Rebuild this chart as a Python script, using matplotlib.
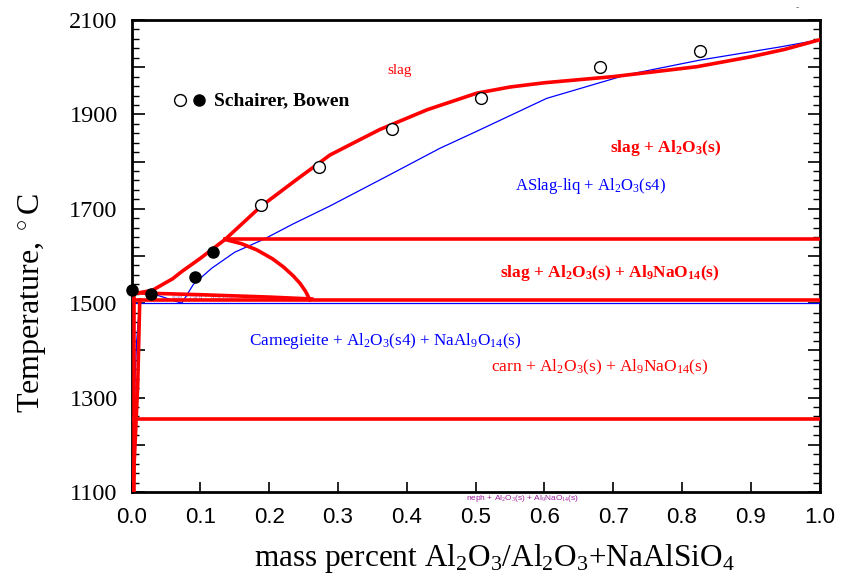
import matplotlib
matplotlib.use("Agg")
import matplotlib.pyplot as plt
from matplotlib.ticker import MultipleLocator, FuncFormatter

plt.rcParams['font.family'] = ['Liberation Serif', 'DejaVu Serif']
plt.rcParams['mathtext.fontset'] = 'custom'
plt.rcParams['mathtext.rm'] = 'Liberation Serif'
plt.rcParams['mathtext.it'] = 'Liberation Serif:italic'
plt.rcParams['mathtext.bf'] = 'Liberation Serif:bold'

RED = '#ff0000'
BLUE = '#0000ff'

# Liquidus (slag / slag + Al2O3)
liq_x = [0.010, 0.030, 0.060, 0.073, 0.100, 0.136, 0.188, 0.240, 0.2885, 0.330,
         0.361, 0.430, 0.502, 0.550, 0.600, 0.700, 0.8215, 0.900, 0.950, 1.000]
liq_T = [1522, 1527, 1552, 1567, 1595, 1635, 1705, 1762, 1814, 1845,
         1868, 1910, 1945, 1958, 1967, 1980, 2001, 2022, 2038, 2058]

# Boundary from the peritectic down to the eutectic line
bnd_x = [0.136, 0.160, 0.182, 0.205, 0.2207, 0.235, 0.245, 0.253, 0.2594]
bnd_T = [1635, 1626, 1613, 1594, 1577, 1558, 1542, 1525, 1507]

# Upper eutectic branch
eut_x = [0.003, 0.100, 0.200, 0.262]
eut_T = [1522, 1518, 1513, 1509]

# Near-vertical solvus lines at the NaAlSiO4 end
solv1_x = [0.003, 0.003]
solv1_T = [1100, 1525]
solv2_x = [0.012, 0.009, 0.002]
solv2_T = [1507, 1326, 1100]

# Invariant temperatures (red)
T_peritectic = 1635
T_eutectic = 1507
T_low = 1254

# Computed (blue) liquidus
bliq_x = [0.073, 0.090, 0.1165, 0.150, 0.1916, 0.235, 0.2885, 0.370, 0.448,
          0.500, 0.6035, 0.720, 0.826, 0.943, 1.000]
bliq_T = [1500, 1540, 1574, 1608, 1635, 1668, 1706, 1768, 1828,
          1863, 1934, 1984, 2015, 2043, 2058]
bseg_x = [0.029, 0.073]
bseg_T = [1521, 1500]
bvert_x = [0.012, 0.0075, 0.005, 0.003]
bvert_T = [1500, 1420, 1337, 1100]
T_blue_eut = 1500

# Schairer & Bowen measurements
open_x = [0.188, 0.2725, 0.378, 0.508, 0.681, 0.827]
open_T = [1707, 1789, 1869, 1934, 2001, 2035]
fill_x = [0.000, 0.029, 0.092, 0.119]
fill_T = [1528, 1519, 1555, 1609]

fig = plt.figure(figsize=(8.41, 5.81), dpi=100)
ax = fig.add_axes([131.5 / 841, 1 - 492 / 581, 688 / 841, 472 / 581])

lw_r = 2.6
lw_b = 0.9

# blue computed diagram
ax.plot(bliq_x, bliq_T, color=BLUE, lw=lw_b, zorder=3)
ax.plot(bseg_x, bseg_T, color=BLUE, lw=lw_b, zorder=3)
ax.plot(bvert_x, bvert_T, color=BLUE, lw=lw_b, zorder=3)
ax.plot([0.0, 1.0], [T_blue_eut, T_blue_eut], color=BLUE, lw=lw_b, zorder=3)

# red assessed diagram
ax.plot(liq_x, liq_T, color=RED, lw=lw_r, zorder=4, solid_joinstyle='round')
ax.plot(bnd_x, bnd_T, color=RED, lw=lw_r, zorder=4, solid_joinstyle='round')
ax.plot(eut_x, eut_T, color=RED, lw=lw_r, zorder=4)
ax.plot(solv1_x, solv1_T, color=RED, lw=lw_r, zorder=4)
ax.plot(solv2_x, solv2_T, color=RED, lw=lw_r, zorder=4)
ax.plot([0.136, 1.0], [T_peritectic, T_peritectic], color=RED, lw=lw_r, zorder=4)
ax.plot([0.003, 1.0], [T_eutectic, T_eutectic], color=RED, lw=lw_r, zorder=4)
ax.plot([0.003, 1.0], [T_low, T_low], color=RED, lw=lw_r, zorder=4)

# experimental points
ax.plot(open_x, open_T, 'o', ms=8.5, mfc='white', mec='black', mew=1.0, zorder=5)
ax.plot(fill_x, fill_T, 'o', ms=8, mfc='black', mec='black', zorder=5, clip_on=False)

# key for the data
ax.plot([0.0705], [1930], 'o', ms=8.5, mfc='white', mec='black', mew=1.0, zorder=5)
ax.plot([0.0985], [1930], 'o', ms=8, mfc='black', mec='black', zorder=5)
ax.text(0.120, 1930, 'Schairer, Bowen', fontsize=14, fontweight='bold',
        va='center', ha='left')

# phase field labels
ax.text(0.390, 1994, 'slag', color=RED, fontsize=11, ha='center', va='center')
ax.text(0.776, 1829, r'slag + Al$_\mathbf{2}$O$_\mathbf{3}$(s)', color=RED,
        fontsize=12.5, fontweight='bold', ha='center', va='center')
ax.text(0.667, 1748, r'ASlag-liq + Al$_2$O$_3$(s4)', color=BLUE,
        fontsize=12, ha='center', va='center')
ax.text(0.695, 1564,
        r'slag + Al$_\mathbf{2}$O$_\mathbf{3}$(s) + Al$_\mathbf{9}$NaO$_\mathbf{14}$(s)',
        color=RED, fontsize=12.5, fontweight='bold', ha='center', va='center')
ax.text(0.369, 1420, r'Carnegieite + Al$_2$O$_3$(s4) + NaAl$_9$O$_{14}$(s)',
        color=BLUE, fontsize=12.3, ha='center', va='center')
ax.text(0.681, 1365, r'carn + Al$_2$O$_3$(s) + Al$_9$NaO$_{14}$(s)',
        color=RED, fontsize=12.5, ha='center', va='center')
ax.text(0.105, 1513, r'slag + carn + Al$_2$O$_3$(s)', color='#9a6fc0',
        fontsize=5, ha='center', va='center', zorder=2)
ax.text(0.569, 1087, r'neph + Al$_2$O$_3$(s) + Al$_9$NaO$_{14}$(s)',
        color='#a020a0', fontsize=6, ha='center', va='center', clip_on=False,
        family=['Liberation Sans', 'DejaVu Sans'])
fig.text(797 / 841, 1 - 8 / 581, '-', color='#607080', fontsize=7,
         ha='center', va='center')

ax.set_xlim(0.0, 1.0)
ax.set_ylim(1100, 2100)

ax.xaxis.set_major_locator(MultipleLocator(0.1))
ax.xaxis.set_major_formatter(FuncFormatter(lambda v, p: f'{v:.1f}'))
ax.yaxis.set_major_locator(MultipleLocator(100))
ax.yaxis.set_minor_locator(MultipleLocator(20))
ax.yaxis.set_major_formatter(
    FuncFormatter(lambda v, p: f'{int(round(v))}' if int(round(v)) % 200 == 100 else ''))

ax.tick_params(axis='x', which='major', direction='in', length=7, width=1.2,
               top=False, bottom=True, pad=11, labelsize=16)
ax.tick_params(axis='y', which='major', direction='in', length=9, width=1.2,
               left=True, right=True, pad=10, labelsize=17.5)
ax.tick_params(axis='y', which='minor', direction='in', length=5, width=1.0,
               left=True, right=True)
for lab in ax.get_xticklabels():
    lab.set_family(['Liberation Sans', 'DejaVu Sans'])

for sp in ax.spines.values():
    sp.set_linewidth(2.0)

ax.set_xlabel(r'mass percent Al$_2$O$_3$/Al$_2$O$_3$+NaAlSiO$_4$', fontsize=22.5)
ax.xaxis.set_label_coords(0.527, -0.106)
ax.set_ylabel(r'Temperature, $^\circ$C', fontsize=23)
ax.yaxis.set_label_coords(-0.122, 0.40)

fig.savefig('out.png', dpi=100)
